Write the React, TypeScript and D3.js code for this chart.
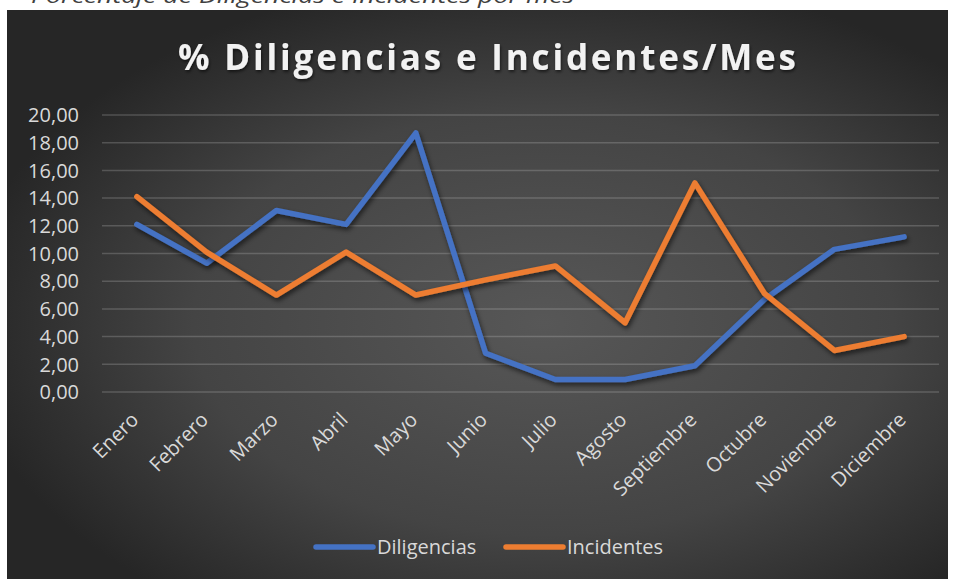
import React from "react";
import * as d3 from "d3";

const months = ["Enero","Febrero","Marzo","Abril","Mayo","Junio","Julio","Agosto","Septiembre","Octubre","Noviembre","Diciembre"];
const diligencias = [12.1, 9.3, 13.1, 12.1, 18.7, 2.8, 0.9, 0.9, 1.9, 6.7, 10.3, 11.2];
const incidentes = [14.1, 10.1, 7.0, 10.1, 7.0, 8.1, 9.1, 5.0, 15.1, 7.1, 3.0, 4.0];
const yTicks = [0, 2, 4, 6, 8, 10, 12, 14, 16, 18, 20];
const seriesNames = ["Diligencias", "Incidentes"];
const seriesColors = ["#4472C4", "#ED7D31"];

const W = 956, H = 579;
const plot = { left: 102, right: 939, top: 115, bottom: 392 };

export default function App() {
  const x = d3.scaleBand<string>().domain(months).range([plot.left, plot.right]);
  const y = d3.scaleLinear().domain([0, 20]).range([plot.bottom, plot.top]);
  const cx = (m: string) => (x(m) as number) + x.bandwidth() / 2;
  const line = d3.line<number>().x((_, i) => cx(months[i])).y((d) => y(d));
  const series = [diligencias, incidentes];
  const fmt = (v: number) => v.toFixed(2).replace(".", ",");
  const font = "'Open Sans', sans-serif";

  return (
    <svg width={W} height={H} style={{ position: "absolute", left: 0, top: 0 }} fontFamily={font}>
      <defs>
        <radialGradient id="bg" cx="0.57" cy="0.55" r="0.62" fx="0.57" fy="0.55">
          <stop offset="0" stopColor="#575757" />
          <stop offset="0.6" stopColor="#444444" />
          <stop offset="1" stopColor="#262626" />
        </radialGradient>
        <filter id="sh" x="-10%" y="-10%" width="120%" height="130%">
          <feDropShadow dx="1.5" dy="3" stdDeviation="2.5" floodColor="#000" floodOpacity="0.6" />
        </filter>
        <filter id="tsh" x="-5%" y="-20%" width="110%" height="150%">
          <feDropShadow dx="1" dy="2" stdDeviation="1.5" floodColor="#000" floodOpacity="0.55" />
        </filter>
      </defs>
      <rect x={0} y={0} width={W} height={H} fill="#ffffff" />
      <text x={31} y={3} fontSize={20} fontStyle="italic" fill="#404040" textLength={543} lengthAdjust="spacingAndGlyphs">
        Porcentaje de Diligencias e Incidentes por mes
      </text>
      <rect x={7} y={10} width={941} height={H - 10} fill="url(#bg)" />
      <text x={487} y={70} textAnchor="middle" fontSize={35} fontWeight="bold" fill="#f2f2f2" textLength={618} lengthAdjust="spacing" filter="url(#tsh)">
        % Diligencias e Incidentes/Mes
      </text>
      {yTicks.map((t) => (
        <g key={t}>
          <line x1={plot.left} x2={plot.right} y1={y(t)} y2={y(t)} stroke="#d9d9d9" strokeOpacity={0.22} strokeWidth={1.5} />
          <text x={79} y={y(t)} dy="0.36em" textAnchor="end" fontSize={20} fill="#d9d9d9">{fmt(t)}</text>
        </g>
      ))}
      {months.map((m) => (
        <text key={m} transform={`translate(${cx(m) + 3},${421}) rotate(-45)`} textAnchor="end" fontSize={20} fill="#d9d9d9">{m}</text>
      ))}
      {series.map((s, i) => (
        <path key={i} d={line(s) as string} fill="none" stroke={seriesColors[i]} strokeWidth={5.5} strokeLinecap="round" strokeLinejoin="round" filter="url(#sh)" />
      ))}
      {seriesNames.map((n, i) => {
        const lx = i === 0 ? 316 : 506;
        return (
          <g key={n}>
            <line x1={lx} x2={lx + 57} y1={547} y2={547} stroke={seriesColors[i]} strokeWidth={5.5} strokeLinecap="round" />
            <text x={lx + 61} y={547} dy="0.36em" fontSize={20} fill="#d9d9d9">{n}</text>
          </g>
        );
      })}
    </svg>
  );
}
